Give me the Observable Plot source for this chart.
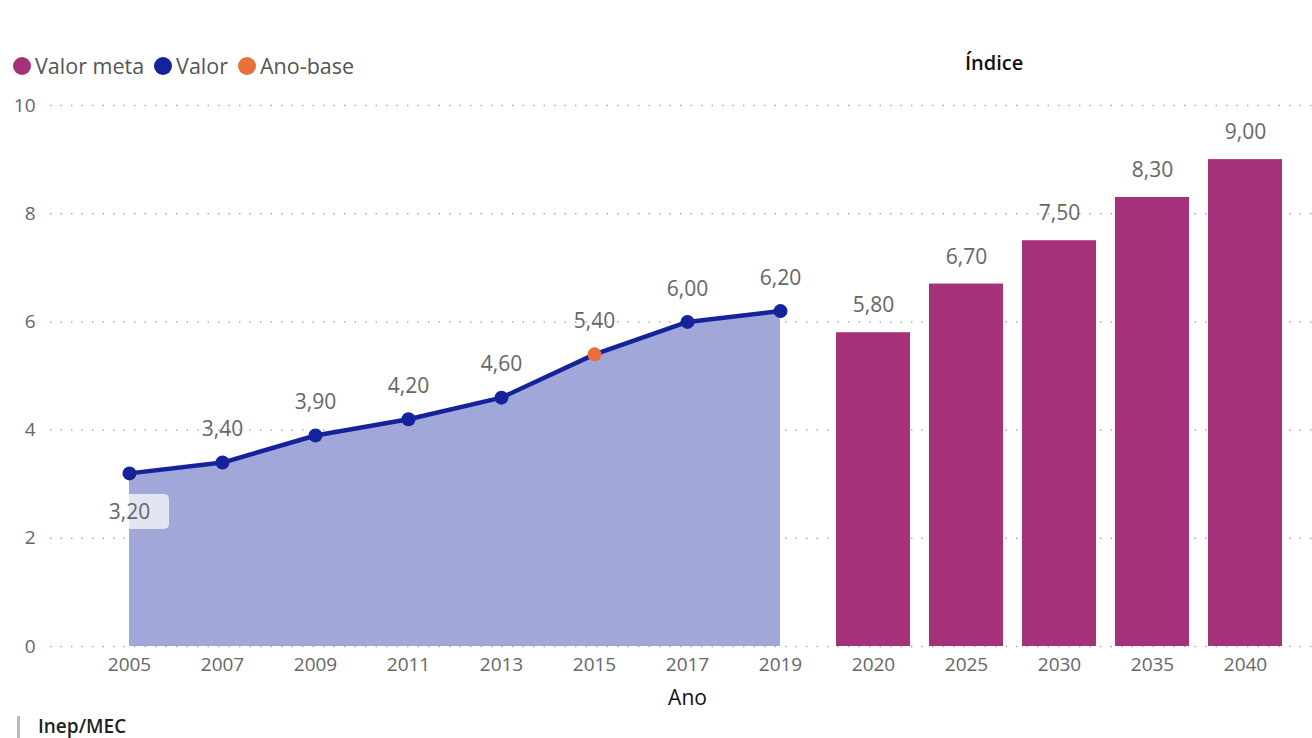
<!DOCTYPE html>
<html>
<head>
<meta charset="utf-8">
<script src="https://cdn.jsdelivr.net/npm/d3@7"></script>
<script src="https://cdn.jsdelivr.net/npm/@observablehq/plot@0.6"></script>
<style>
  body { margin: 0; background: #fff; font-family: "Open Sans", "Noto Sans", sans-serif; }
  #wrap { position: relative; width: 1312px; height: 738px; overflow: hidden; }
  #header { position: relative; height: 90px; }
  .legend { position: absolute; left: 13px; top: 51px; display: flex; align-items: center; font-size: 21.5px; color: #555; }
  .legend .item { display: flex; align-items: center; margin-right: 10px; }
  .legend .sw { width: 18px; height: 18px; border-radius: 50%; margin-right: 4px; display: inline-block; }
  .title { position: absolute; left: 965px; top: 49px; font-size: 20px; font-weight: 600; color: #111; }
  .caption { position: absolute; left: 17px; top: 716px; font-size: 19px; font-weight: 600; color: #222; border-left: 3px solid #bbb; padding-left: 18px; line-height: 21px; height: 22px; }
</style>
</head>
<body>
<div id="wrap">
  <div id="header">
    <div class="legend" id="legend"></div>
    <div class="title">Índice</div>
  </div>
  <div id="chart"></div>
  <div class="caption">Inep/MEC</div>
</div>
<script>
// ---- data ----
const anos = ["2005", "2007", "2009", "2011", "2013", "2015", "2017", "2019"];
const valores = [3.2, 3.4, 3.9, 4.2, 4.6, 5.4, 6.0, 6.2];
const anosMeta = ["2020", "2025", "2030", "2035", "2040"];
const valoresMeta = [5.8, 6.7, 7.5, 8.3, 9.0];
const anoBase = "2015";
const yTicks = [0, 2, 4, 6, 8, 10];
const legendItems = ["Valor meta", "Valor", "Ano-base"];
const legendColors = ["#a6317b", "#15239b", "#e8703a"];

const cMeta = "#a6317b", cLine = "#15239b", cArea = "#a1a7d8", cBase = "#e8703a", cText = "#666";

const serie = anos.map((a, i) => ({ano: a, valor: valores[i]}));
const metas = anosMeta.map((a, i) => ({ano: a, valor: valoresMeta[i]}));
const fmt = v => v.toFixed(2).replace(".", ",");

// legend
const lg = document.getElementById("legend");
legendItems.forEach((t, i) => {
  const d = document.createElement("span");
  d.className = "item";
  d.innerHTML = `<span class="sw" style="background:${legendColors[i]}"></span>${t}`;
  lg.appendChild(d);
});

const domain = anos.concat(anosMeta);
const first = serie[0];

// background box behind the first (below) label
function labelBox(index, scales, values, dimensions) {
  const g = document.createElementNS("http://www.w3.org/2000/svg", "rect");
  const cx = scales.x(first.ano) + scales.x.bandwidth() / 2;
  const cy = scales.y(first.valor) + 39;
  g.setAttribute("x", cx - 40);
  g.setAttribute("y", cy - 18);
  g.setAttribute("width", 80);
  g.setAttribute("height", 35);
  g.setAttribute("rx", 5);
  g.setAttribute("fill", "#fff");
  g.setAttribute("fill-opacity", 0.7);
  return g;
}

const chart = Plot.plot({
  width: 1312,
  height: 630,
  marginLeft: 50,
  marginRight: 0,
  marginTop: 15,
  marginBottom: 74,
  style: {fontFamily: "'Open Sans', 'Noto Sans', sans-serif", fontSize: "19px", color: cText, background: "#fff"},
  x: {type: "band", domain, range: [80.35, 1293.25], paddingInner: 0.2, paddingOuter: 0.1},
  y: {domain: [0, 10]},
  marks: [
    Plot.gridY(yTicks, {stroke: "#aaa", strokeOpacity: 1, strokeDasharray: "1.5,9", strokeWidth: 1.5}),
    Plot.axisY(yTicks, {tickSize: 0, tickPadding: 15, label: null, fontSize: 19, fill: cText, tickFormat: d => String(d)}),
    Plot.axisX({tickSize: 0, tickPadding: 11, fontSize: 19, fill: cText, label: null}),
    Plot.areaY(serie, {x: "ano", y: "valor", fill: cArea, curve: "linear"}),
    Plot.barY(metas, {x: "ano", y: "valor", fill: cMeta}),
    Plot.lineY(serie, {x: "ano", y: "valor", stroke: cLine, strokeWidth: 4.5}),
    Plot.dot(serie, {x: "ano", y: "valor", r: 7, fill: d => d.ano === anoBase ? cBase : cLine, stroke: "none"}),
    labelBox,
    Plot.text(serie.slice(1), {x: "ano", y: "valor", text: d => fmt(d.valor), dy: -33, fontSize: 21, fill: cText}),
    Plot.text([first], {x: "ano", y: "valor", text: d => fmt(d.valor), dy: 39, fontSize: 21, fill: cText}),
    Plot.text(metas, {x: "ano", y: "valor", text: d => fmt(d.valor), dy: -27, fontSize: 21, fill: cText}),
    Plot.text(["Ano"], {x: () => "2017", frameAnchor: "bottom", dy: 58, text: d => d, fontSize: 21, fill: "#111"})
  ]
});
document.getElementById("chart").appendChild(chart);
</script>
</body>
</html>
